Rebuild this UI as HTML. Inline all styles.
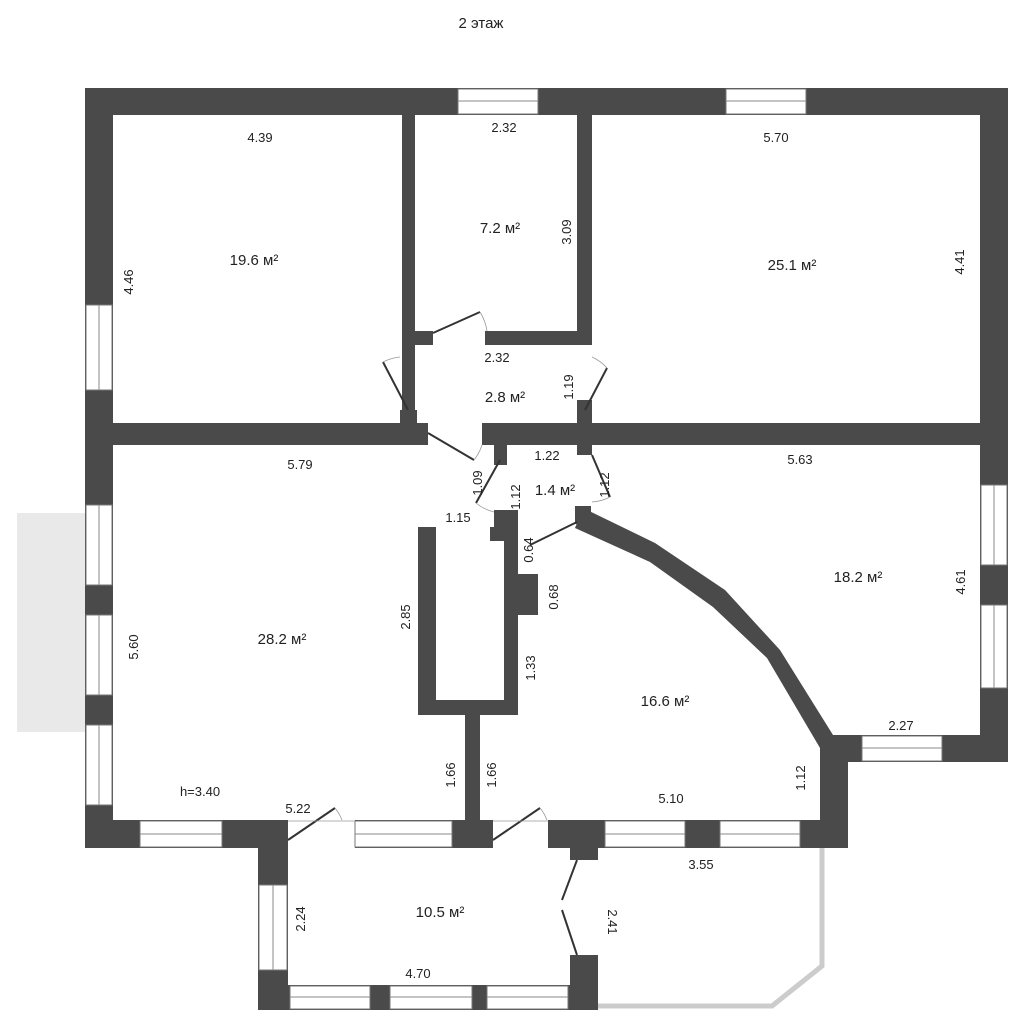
<!DOCTYPE html>
<html><head><meta charset="utf-8"><style>
html,body{margin:0;padding:0;background:#fff}
svg{display:block}
text{font-family:"Liberation Sans",sans-serif;font-size:13px;fill:#222}
.a{font-size:15px}
</style></head><body>
<svg width="1024" height="1024" viewBox="0 0 1024 1024" xmlns="http://www.w3.org/2000/svg">
<rect x="17" y="513" width="68" height="219" fill="#e9e9e9"/>
<g fill="#4a4a4a">
<rect x="85" y="88" width="923" height="27"/>
<rect x="85" y="88" width="28" height="760"/>
<rect x="980" y="88" width="28" height="674"/>
<rect x="85" y="820" width="203" height="28"/>
<rect x="355" y="820" width="138" height="28"/>
<rect x="548" y="820" width="300" height="28"/>
<rect x="820" y="735" width="188" height="27"/>
<rect x="820" y="735" width="28" height="113"/>
<rect x="113" y="423" width="315" height="22"/>
<rect x="482" y="423" width="498" height="22"/>
<rect x="402" y="115" width="13" height="308"/>
<rect x="400" y="410" width="17" height="15"/>
<rect x="577" y="115" width="15" height="230"/>
<rect x="577" y="400" width="15" height="23"/>
<rect x="415" y="331" width="18" height="14"/>
<rect x="485" y="331" width="92" height="14"/>
<rect x="494" y="445" width="13" height="20"/>
<rect x="577" y="445" width="15" height="10"/>
<rect x="494" y="510" width="13" height="30"/>
<rect x="575" y="506" width="16" height="18"/>
<rect x="418" y="527" width="18" height="188"/>
<rect x="418" y="700" width="100" height="15"/>
<rect x="504" y="510" width="14" height="205"/>
<rect x="490" y="527" width="28" height="14"/>
<rect x="518" y="574" width="20" height="41"/>
<rect x="465" y="715" width="15" height="105"/>
<polygon points="583,508 655,543 725,590 780,650 833,735 820,748 767,658 713,607 650,562 575,528"/>
<rect x="258" y="848" width="30" height="162"/>
<rect x="258" y="985" width="340" height="25"/>
<rect x="570" y="955" width="28" height="55"/>
<rect x="570" y="848" width="28" height="12"/>
</g>
<g fill="#fff" stroke="#777" stroke-width="1">
<rect x="458" y="89" width="80" height="25"/>
<rect x="726" y="89" width="80" height="25"/>
<rect x="86" y="305" width="26" height="85"/>
<rect x="86" y="505" width="26" height="80"/>
<rect x="86" y="615" width="26" height="80"/>
<rect x="86" y="725" width="26" height="80"/>
<rect x="981" y="485" width="26" height="80"/>
<rect x="981" y="605" width="26" height="83"/>
<rect x="140" y="821" width="82" height="26"/>
<rect x="355" y="821" width="97" height="26"/>
<rect x="605" y="821" width="80" height="26"/>
<rect x="720" y="821" width="80" height="26"/>
<rect x="862" y="736" width="80" height="25"/>
<rect x="259" y="885" width="28" height="85"/>
<rect x="290" y="986" width="80" height="23"/>
<rect x="390" y="986" width="82" height="23"/>
<rect x="487" y="986" width="81" height="23"/>
</g>
<g stroke="#888" stroke-width="1">
<line x1="458" y1="101" x2="538" y2="101"/><line x1="726" y1="101" x2="806" y2="101"/>
<line x1="99" y1="305" x2="99" y2="390"/><line x1="99" y1="505" x2="99" y2="585"/><line x1="99" y1="615" x2="99" y2="695"/><line x1="99" y1="725" x2="99" y2="805"/>
<line x1="994" y1="485" x2="994" y2="565"/><line x1="994" y1="605" x2="994" y2="688"/>
<line x1="140" y1="834" x2="222" y2="834"/><line x1="355" y1="834" x2="452" y2="834"/><line x1="605" y1="834" x2="685" y2="834"/><line x1="720" y1="834" x2="800" y2="834"/>
<line x1="862" y1="748" x2="942" y2="748"/><line x1="273" y1="885" x2="273" y2="970"/>
<line x1="290" y1="997" x2="370" y2="997"/><line x1="390" y1="997" x2="472" y2="997"/><line x1="487" y1="997" x2="568" y2="997"/>
</g>
<polyline points="598,1006 772,1006 822,966 822,848" fill="none" stroke="#ccc" stroke-width="5"/>
<g stroke="#333" stroke-width="2" fill="none">
<line x1="433" y1="333" x2="480" y2="312"/>
<line x1="408" y1="410" x2="383" y2="362"/>
<line x1="585" y1="410" x2="607" y2="368"/>
<line x1="428" y1="433" x2="474" y2="460"/>
<line x1="500" y1="460" x2="476" y2="503"/>
<line x1="592" y1="455" x2="610" y2="497"/>
<line x1="577" y1="522" x2="530" y2="545"/>
<line x1="288" y1="840" x2="335" y2="808"/>
<line x1="493" y1="840" x2="540" y2="808"/>
<line x1="577" y1="860" x2="562" y2="900"/><line x1="562" y1="910" x2="577" y2="955"/>
</g>
<g stroke="#999" stroke-width="0.8" fill="none">
<path d="M480 312 A50 50 0 0 1 487 331"/><path d="M383 362 A50 50 0 0 1 400 357"/>
<path d="M607 368 A45 45 0 0 0 592 357"/><path d="M474 460 A45 45 0 0 0 482 445"/>
<path d="M476 503 A45 45 0 0 0 494 512"/><path d="M610 497 A45 45 0 0 1 592 502"/>
<path d="M335 808 A45 45 0 0 1 342 820"/><path d="M540 808 A45 45 0 0 1 547 820"/>
<line x1="288" y1="821" x2="355" y2="821"/><line x1="493" y1="821" x2="548" y2="821"/>
</g>
<g>
<text x="481" y="28" text-anchor="middle" style="font-size:15px">2 этаж</text>
<text x="260" y="142" text-anchor="middle">4.39</text>
<text x="504" y="132" text-anchor="middle">2.32</text>
<text x="776" y="142" text-anchor="middle">5.70</text>
<text class="a" x="254" y="265" text-anchor="middle">19.6 м²</text>
<text class="a" x="500" y="233" text-anchor="middle">7.2 м²</text>
<text class="a" x="792" y="270" text-anchor="middle">25.1 м²</text>
<text x="497" y="362" text-anchor="middle">2.32</text>
<text class="a" x="505" y="402" text-anchor="middle">2.8 м²</text>
<text x="300" y="469" text-anchor="middle">5.79</text>
<text x="547" y="460" text-anchor="middle">1.22</text>
<text class="a" x="555" y="495" text-anchor="middle">1.4 м²</text>
<text x="800" y="464" text-anchor="middle">5.63</text>
<text x="458" y="522" text-anchor="middle">1.15</text>
<text class="a" x="858" y="582" text-anchor="middle">18.2 м²</text>
<text class="a" x="282" y="644" text-anchor="middle">28.2 м²</text>
<text class="a" x="665" y="706" text-anchor="middle">16.6 м²</text>
<text x="901" y="730" text-anchor="middle">2.27</text>
<text x="200" y="796" text-anchor="middle">h=3.40</text>
<text x="298" y="813" text-anchor="middle">5.22</text>
<text x="671" y="803" text-anchor="middle">5.10</text>
<text x="701" y="869" text-anchor="middle">3.55</text>
<text class="a" x="440" y="917" text-anchor="middle">10.5 м²</text>
<text x="418" y="978" text-anchor="middle">4.70</text>
</g>
<g>
<text transform="translate(133,282) rotate(-90)" text-anchor="middle">4.46</text>
<text transform="translate(571,232) rotate(-90)" text-anchor="middle">3.09</text>
<text transform="translate(964,262) rotate(-90)" text-anchor="middle">4.41</text>
<text transform="translate(573,387) rotate(-90)" text-anchor="middle">1.19</text>
<text transform="translate(482,483) rotate(-90)" text-anchor="middle">1.09</text>
<text transform="translate(520,497) rotate(-90)" text-anchor="middle">1.12</text>
<text transform="translate(609,485) rotate(-90)" text-anchor="middle">1.12</text>
<text transform="translate(533,550) rotate(-90)" text-anchor="middle">0.64</text>
<text transform="translate(558,597) rotate(-90)" text-anchor="middle">0.68</text>
<text transform="translate(410,617) rotate(-90)" text-anchor="middle">2.85</text>
<text transform="translate(535,668) rotate(-90)" text-anchor="middle">1.33</text>
<text transform="translate(138,647) rotate(-90)" text-anchor="middle">5.60</text>
<text transform="translate(965,582) rotate(-90)" text-anchor="middle">4.61</text>
<text transform="translate(455,775) rotate(-90)" text-anchor="middle">1.66</text>
<text transform="translate(496,775) rotate(-90)" text-anchor="middle">1.66</text>
<text transform="translate(805,778) rotate(-90)" text-anchor="middle">1.12</text>
<text transform="translate(305,919) rotate(-90)" text-anchor="middle">2.24</text>
<text transform="translate(608,922) rotate(90)" text-anchor="middle">2.41</text>
</g>
</svg>
</body></html>
